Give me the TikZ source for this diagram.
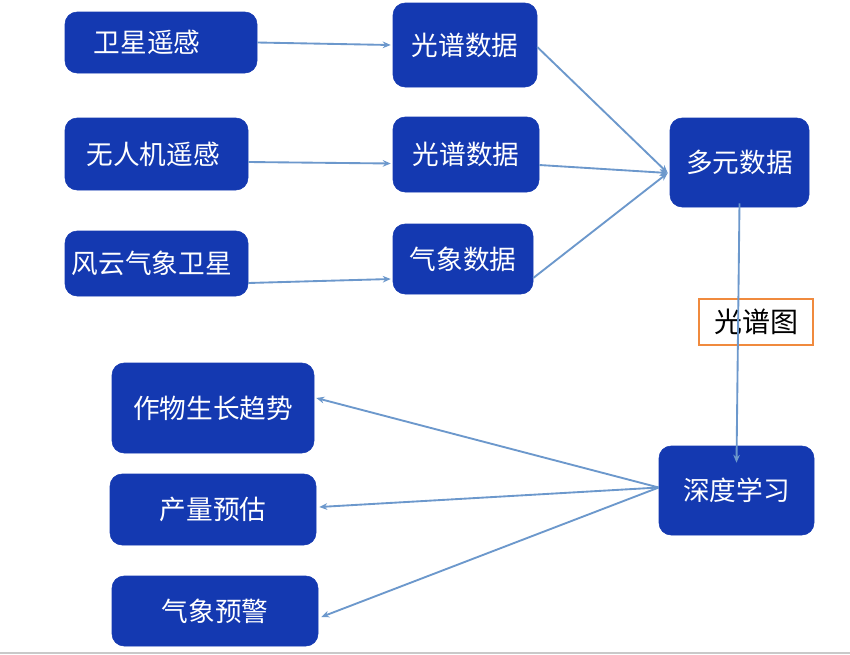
\documentclass[tikz,border=0pt]{standalone}
\usepackage{fontspec}
\usetikzlibrary{arrows.meta,calc}
\newfontfamily\cjk{Noto Sans CJK SC}
\definecolor{FlowBlue}{HTML}{1439B1}
\definecolor{FlowLine}{HTML}{6C98CC}
\definecolor{FlowOrange}{HTML}{F08A3E}
\definecolor{FlowGray}{HTML}{C9C9C9}

\begin{document}
\begin{tikzpicture}[x=0.75pt,y=-0.75pt]
    \tikzset{flowbox/.style={rounded corners=9pt,fill=FlowBlue,draw=FlowBlue,text=white,inner sep=0pt,align=center,font=\cjk\fontsize{20}{24}\selectfont},
      flowarrow/.style={-{Stealth[length=6pt,width=5pt]},FlowLine,line width=1.4pt},
      tagbox/.style={draw=FlowOrange,line width=1.5pt,inner sep=0pt,minimum width=85.5pt,minimum height=34.5pt,font=\cjk\fontsize{21}{25}\selectfont}}
    \useasboundingbox (0,0) rectangle (850,654);
    \fill[white] (0,0) rectangle (850,654);
    \fill[FlowGray] (0,651.5) rectangle (850,654);
    \node[flowbox,minimum width=144pt,minimum height=45.75pt] (sat) at (161,42.5) {卫星遥感\hspace*{21pt}};
    \node[flowbox,minimum width=137.25pt,minimum height=54pt] (uav) at (156.5,154) {无人机遥感\hspace*{5pt}};
    \node[flowbox,minimum width=137.25pt,minimum height=48.75pt] (fy) at (156.5,263.5) {风云气象卫星\hspace*{7pt}};
    \node[flowbox,minimum width=108pt,minimum height=63pt] (spec1) at (465,45) {光谱数据};
    \node[flowbox,minimum width=109.5pt,minimum height=56.25pt] (spec2) at (466,154.5) {光谱数据};
    \node[flowbox,minimum width=105pt,minimum height=52.5pt] (met) at (463,259) {气象数据};
    \node[flowbox,minimum width=104.25pt,minimum height=66.75pt] (multi) at (739.5,162.5) {多元数据};
    \node[flowbox,minimum width=116.25pt,minimum height=66.75pt] (deep) at (736.5,490.5) {深度学习};
    \node[flowbox,minimum width=151.5pt,minimum height=67.5pt] (crop) at (213,408) {作物生长趋势};
    \node[flowbox,minimum width=154.5pt,minimum height=53.25pt] (yield) at (213,509.5) {产量预估};
    \node[flowbox,minimum width=154.5pt,minimum height=52.5pt] (warn) at (215,611) {气象预警};
    \node[tagbox] (tag) at (756,322) {光谱图};

    \draw[flowarrow] (sat.east) -- ($(spec1.west)+(-2,0)$);
    \draw[flowarrow] ($(uav.east)+(0,8)$) -- ($(spec2.west)+(-2,9)$);
    \draw[flowarrow] ($(fy.east)+(0,19.5)$) -- ($(met.west)+(-2,20)$);
    \draw[flowarrow] ($(spec1.east)+(0,2)$) -- ($(multi.west)+(-2,10.5)$);
    \draw[flowarrow] ($(spec2.east)+(0,10.5)$) -- ($(multi.west)+(-2,10.5)$);
    \draw[flowarrow] ($(met.east)+(0,19)$) -- ($(multi.west)+(-2,10.5)$);
    \draw[flowarrow] ($(multi.south)+(0,-4)$) -- ($(deep.north)+(0,17)$);
    \draw[flowarrow] ($(deep.west)+(0,-3)$) -- ($(crop.east)+(2,-10)$);
    \draw[flowarrow] ($(deep.west)+(0,-3)$) -- ($(yield.east)+(3,-2.5)$);
    \draw[flowarrow] ($(deep.west)+(0,-3)$) -- ($(warn.east)+(3,6)$);
  \end{tikzpicture}
\end{document}
